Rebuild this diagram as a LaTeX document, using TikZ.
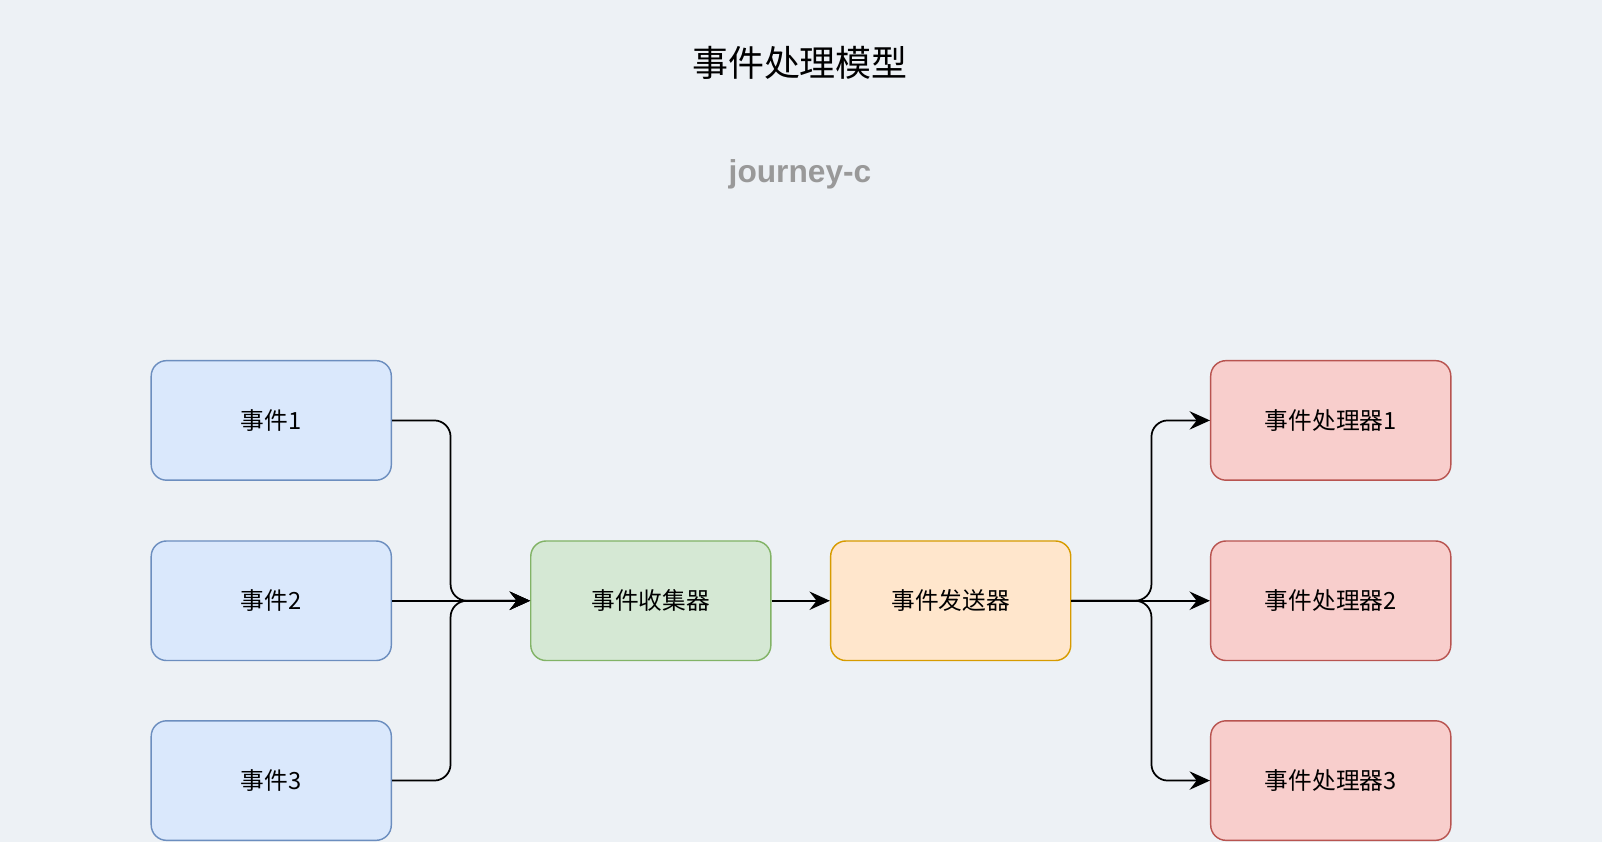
\documentclass[tikz,border=0pt]{standalone}
\usepackage{fontspec}
\setmainfont{Liberation Sans}
\newfontfamily\cjk{Noto Sans CJK SC}
\usetikzlibrary{arrows.meta}
\definecolor{bgcol}{HTML}{EDF1F5}
\definecolor{bluefill}{HTML}{DAE8FC}
\definecolor{bluedraw}{HTML}{6C8EBF}
\definecolor{greenfill}{HTML}{D5E8D4}
\definecolor{greendraw}{HTML}{82B366}
\definecolor{orangefill}{HTML}{FFE6CC}
\definecolor{orangedraw}{HTML}{D79B00}
\definecolor{redfill}{HTML}{F8CECC}
\definecolor{reddraw}{HTML}{B85450}
\tikzset{
  box/.style={rectangle,rounded corners=7.5pt,line width=0.7pt,
    minimum width=117.5pt,minimum height=58.5pt,inner sep=0pt,
    font=\cjk\fontsize{11.6}{13}\selectfont},
  evt/.style={box,draw=bluedraw,fill=bluefill},
  coll/.style={box,draw=greendraw,fill=greenfill},
  send/.style={box,draw=orangedraw,fill=orangefill},
  hdl/.style={box,draw=reddraw,fill=redfill},
  link/.style={line width=0.85pt,rounded corners=8pt,
    -{Stealth[length=10pt,width=9pt,inset=3.5pt]}}
}
\begin{document}
\begin{tikzpicture}[x=0.5pt,y=-0.5pt]
\fill[bgcol] (0,0) rectangle (1568,824);
\useasboundingbox (0,0) rectangle (1568,824);
\node[font=\cjk\fontsize{17.6}{20}\selectfont] (title) at (783,62) {事件处理模型};
\node[font=\fontsize{15.5}{18}\selectfont\bfseries,text=black!40] (sign) at (783,171) {journey-c};
% events
\node[evt] (ev1) at (265.5,411.5) {事件1};
\node[evt] (ev2) at (265.5,588) {事件2};
\node[evt] (ev3) at (265.5,764) {事件3};
\node[coll] (collector) at (637,588) {事件收集器};
\node[send] (sender) at (930.5,588) {事件发送器};
% handlers
\node[hdl] (hd1) at (1302.5,411.5) {事件处理器1};
\node[hdl] (hd2) at (1302.5,588) {事件处理器2};
\node[hdl] (hd3) at (1302.5,764) {事件处理器3};
\coordinate (lbend) at (441,588);
\coordinate (rbend) at (1127,588);
\draw[link] (ev1.east) -- (ev1.east -| lbend) -- (lbend) -- (collector.west);
\draw[link] (ev2.east) -- (collector.west);
\draw[link] (ev3.east) -- (ev3.east -| lbend) -- (lbend) -- (collector.west);
\draw[link] (collector.east) -- (sender.west);
\draw[link] (sender.east) -- (rbend) -- (rbend |- hd1.west) -- (hd1.west);
\draw[link] (sender.east) -- (hd2.west);
\draw[link] (sender.east) -- (rbend) -- (rbend |- hd3.west) -- (hd3.west);
\end{tikzpicture}
\end{document}
